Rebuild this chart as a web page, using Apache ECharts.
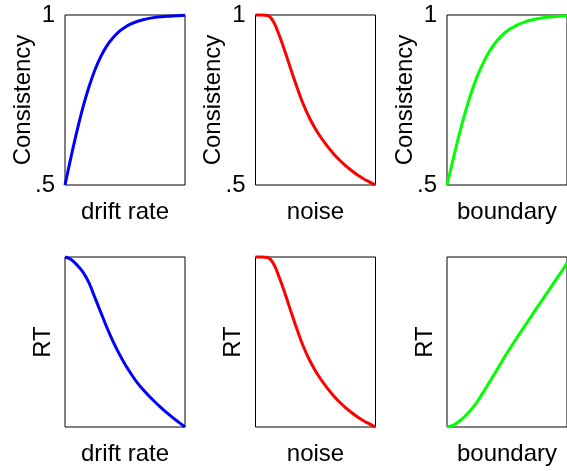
<!DOCTYPE html>
<html>
<head>
<meta charset="utf-8">
<script src="https://cdn.jsdelivr.net/npm/echarts@6/dist/echarts.min.js"></script>
<style>html,body{margin:0;padding:0;background:#fff}#c{width:567px;height:471px}</style>
</head>
<body>
<div id="c"></div>
<script>
// x positions (normalized parameter value, 0..1)
var xs = [0,0.05,0.10,0.15,0.20,0.25,0.30,0.35,0.40,0.45,0.50,0.55,0.60,0.65,0.70,0.75,0.80,0.85,0.90,0.95,1.0];

// Top row: Consistency (0.5 .. 1)
var consDrift    = [0.5,0.582,0.659,0.729,0.789,0.839,0.879,0.910,0.933,0.951,0.964,0.974,0.981,0.986,0.990,0.993,0.995,0.996,0.997,0.998,0.999];
var consNoise    = [1.0,1.0,0.9985,0.980,0.938,0.888,0.8345,0.783,0.736,0.697,0.665,0.6375,0.6135,0.592,0.5735,0.557,0.5425,0.5295,0.5185,0.509,0.5];
var consBoundary = [0.5,0.574,0.646,0.711,0.769,0.818,0.858,0.891,0.917,0.937,0.953,0.964,0.973,0.980,0.985,0.989,0.992,0.994,0.995,0.997,0.998];

// Bottom row: RT (normalized 0 .. 1)
var rtDrift    = [1.0,0.985,0.953,0.911,0.848,0.760,0.671,0.584,0.504,0.433,0.369,0.313,0.262,0.220,0.182,0.147,0.114,0.083,0.054,0.027,0.0];
var rtNoise    = [1.0,1.0,0.997,0.960,0.876,0.776,0.669,0.566,0.472,0.394,0.330,0.275,0.227,0.184,0.147,0.114,0.085,0.059,0.037,0.018,0.0];
var rtBoundary = [0.0,0.010,0.032,0.063,0.101,0.147,0.202,0.260,0.318,0.377,0.435,0.490,0.543,0.596,0.649,0.702,0.754,0.806,0.858,0.910,0.965];

var xNames = ['drift rate','noise','boundary'];
var yNames = ['Consistency','RT'];
var consTicks = ['.5','1'];
var colors = ['#0000ff','#ff0000','#00ff00'];

var panels = [
  [consDrift, consNoise, consBoundary],
  [rtDrift, rtNoise, rtBoundary]
];

var FONT = 'Liberation Sans, Arial, sans-serif';
var lefts = [65, 255.5, 447];
var tops = [15, 257];

var grid = [], xAxis = [], yAxis = [], series = [];
for (var r = 0; r < 2; r++) {
  for (var c = 0; c < 3; c++) {
    var i = r * 3 + c;
    grid.push({left: lefts[c], top: tops[r], width: 120, height: 170, show: true,
      borderColor: '#000', borderWidth: 1, backgroundColor: 'transparent', containLabel: false});
    xAxis.push({type: 'value', gridIndex: i, min: 0, max: 1,
      axisLine: {show: false}, axisTick: {show: false}, axisLabel: {show: false}, splitLine: {show: false},
      name: xNames[c], nameLocation: 'middle', nameGap: 15, nameMoveOverlap: false,
      nameTextStyle: {fontSize: 24, color: '#000', fontFamily: FONT}});
    if (r === 0) {
      yAxis.push({type: 'value', gridIndex: i, min: 0.5, max: 1, interval: 0.5,
        axisLine: {show: false}, axisTick: {show: false}, splitLine: {show: false},
        axisLabel: {show: true, fontSize: 24, color: '#000', fontFamily: FONT, margin: 10,
          formatter: function (v) { return v >= 1 ? consTicks[1] : consTicks[0]; }},
        name: yNames[0], nameLocation: 'middle', nameGap: 30, nameMoveOverlap: false,
        nameTextStyle: {fontSize: 24, color: '#000', fontFamily: FONT}});
    } else {
      yAxis.push({type: 'value', gridIndex: i, min: 0, max: 1,
        axisLine: {show: false}, axisTick: {show: false}, splitLine: {show: false}, axisLabel: {show: false},
        name: yNames[1], nameLocation: 'middle', nameGap: 10, nameMoveOverlap: false,
        nameTextStyle: {fontSize: 24, color: '#000', fontFamily: FONT}});
    }
    var vals = panels[r][c];
    var data = xs.map(function (x, k) { return [x, vals[k]]; });
    series.push({type: 'line', xAxisIndex: i, yAxisIndex: i, data: data, smooth: 0.4,
      showSymbol: false, clip: false, silent: true,
      lineStyle: {color: colors[c], width: 3}, itemStyle: {color: colors[c]}});
  }
}

var chart = echarts.init(document.getElementById('c'), null, {renderer: 'canvas'});
chart.setOption({animation: false, backgroundColor: '#fff', grid: grid, xAxis: xAxis, yAxis: yAxis, series: series});
</script>
</body>
</html>
